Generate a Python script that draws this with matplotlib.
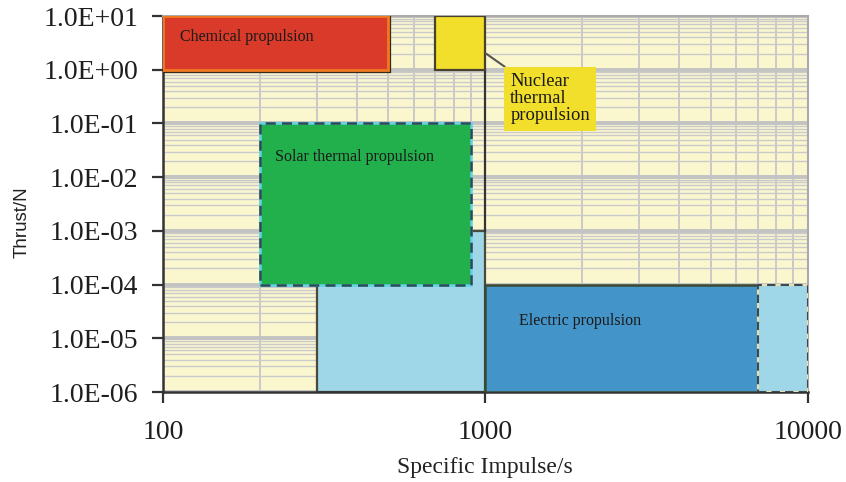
import matplotlib
matplotlib.use("Agg")
import matplotlib.pyplot as plt
from matplotlib.patches import Rectangle
from matplotlib.ticker import LogLocator, FuncFormatter, NullFormatter
import matplotlib.patheffects as pe

# Operating regions: specific impulse range (s) and thrust range (N)
regions = ["Chemical propulsion", "Nuclear thermal propulsion", "Solar thermal propulsion",
           "Electric (extended)", "Electric propulsion", "Electric (future)"]
isp_low = [100, 700, 200, 300, 1000, 7000]
isp_high = [500, 1000, 900, 1000, 7000, 10000]
thrust_low = [1.0, 1.0, 1e-4, 1e-6, 1e-6, 1e-6]
thrust_high = [10.0, 10.0, 1e-1, 1e-3, 1e-4, 1e-4]

x_ticks = [100, 1000, 10000]
y_ticks = [1e-6, 1e-5, 1e-4, 1e-3, 1e-2, 1e-1, 1e0, 1e1]

fig = plt.figure(figsize=(8.46, 4.82), dpi=100)
ax = fig.add_axes([0.1927, 0.1867, 0.762, 0.780])
ax.set_xscale("log")
ax.set_yscale("log")
ax.set_xlim(100, 10000)
ax.set_ylim(1e-6, 1e1)
ax.set_facecolor("#faf7cf")

# grid
ax.xaxis.set_minor_locator(LogLocator(base=10, subs=range(2, 10)))
ax.yaxis.set_minor_locator(LogLocator(base=10, subs=range(2, 10)))
ax.grid(True, which="major", axis="y", color="#c3c3c3", lw=2.8, zorder=0)
ax.grid(True, which="minor", axis="y", color="#cacaca", lw=1.0, zorder=0)
ax.grid(True, which="both", axis="x", color="#c6c6c6", lw=1.3, zorder=0)
ax.set_axisbelow(True)

serif = "Liberation Serif"

ax.set_xticks(x_ticks)
ax.set_yticks(y_ticks)
ax.xaxis.set_minor_formatter(NullFormatter())
ax.yaxis.set_minor_formatter(NullFormatter())
ax.xaxis.set_major_formatter(FuncFormatter(lambda v, p: f"{v:.0f}"))
ax.yaxis.set_major_formatter(FuncFormatter(lambda v, p: f"{v:.1E}"))
ax.tick_params(which="minor", length=0)
ax.tick_params(which="major", length=8, width=1.6, color="#333333", direction="out")
ax.tick_params(axis="y", pad=10)
ax.tick_params(axis="x", pad=12)
for lab in ax.get_xticklabels() + ax.get_yticklabels():
    lab.set_fontfamily(serif)
    lab.set_fontsize(20)
    lab.set_color("#1e1e1e")

for side in ["left", "bottom"]:
    ax.spines[side].set_color("#333333")
    ax.spines[side].set_linewidth(1.8)
for side in ["top", "right"]:
    ax.spines[side].set_color("#aaaaaa")
    ax.spines[side].set_linewidth(1.5)

ax.set_xlabel("Specific Impulse/s", fontfamily=serif, fontsize=17, color="#222222", labelpad=9)
ax.set_ylabel("Thrust/N", fontfamily="Liberation Sans", fontsize=13.5, color="#222222")
ax.yaxis.set_label_coords(-0.205, 0.452)

def box(i, face, edge, lw=1.5, ls="-", z=2, effects=None):
    r = Rectangle((isp_low[i], thrust_low[i]), isp_high[i] - isp_low[i],
                  thrust_high[i] - thrust_low[i], facecolor=face, edgecolor=edge,
                  lw=lw, ls=ls, zorder=z)
    if effects:
        r.set_path_effects(effects)
    ax.add_patch(r)
    return r

# light-blue extended electric range, under the solar thermal box
box(3, "#9fd6e8", "#4a4a3a", lw=1.6, z=2)
# vertical divider at 1000 s
ax.plot([1000, 1000], [1e-3, 1.0], color="#333333", lw=1.6, zorder=2)
# chemical
box(0, "#d93a2a", "#f07a20", lw=2.0, z=3,
    effects=[pe.Stroke(linewidth=4.5, foreground="#3a2a1a"), pe.Normal()])
# nuclear thermal
box(1, "#f2df2c", "#4a4030", lw=1.6, z=3)
# solar thermal: cyan outline overlaid with dark dashes
box(2, "#22b04c", "#5fd3e3", lw=1.8, z=4)
box(2, "none", "#2a4a55", lw=1.8, ls=(0, (4, 2.5)), z=4)
# electric
box(4, "#4394c8", "#3a4a30", lw=1.8, z=3)
box(5, "#9fd6e8", "#e8e0b0", lw=1.5, z=3)
box(5, "none", "#3a4a50", lw=1.5, ls=(0, (4, 2.5)), z=3)

tkw = dict(fontfamily=serif, fontsize=11.5, color="#1a1a1a", zorder=6)
ax.text(113, 4.1, "Chemical propulsion", va="center", ha="left", **tkw)
ax.text(222, 0.0235, "Solar thermal propulsion", va="center", ha="left", **tkw)
ax.text(1270, 2.1e-5, "Electric propulsion", va="center", ha="left", **tkw)

ax.annotate("Nuclear\nthermal\npropulsion", xy=(1005, 2.0), xytext=(1195, 0.29),
            ha="left", va="center", fontfamily=serif, fontsize=13.3, color="#1a1a1a",
            linespacing=1.0, zorder=6,
            bbox=dict(boxstyle="square,pad=0.35", facecolor="#f2df2c", edgecolor="none"),
            arrowprops=dict(arrowstyle="-", color="#555555", lw=1.5, shrinkA=0, shrinkB=0))

fig.savefig("out.png", dpi=100)
